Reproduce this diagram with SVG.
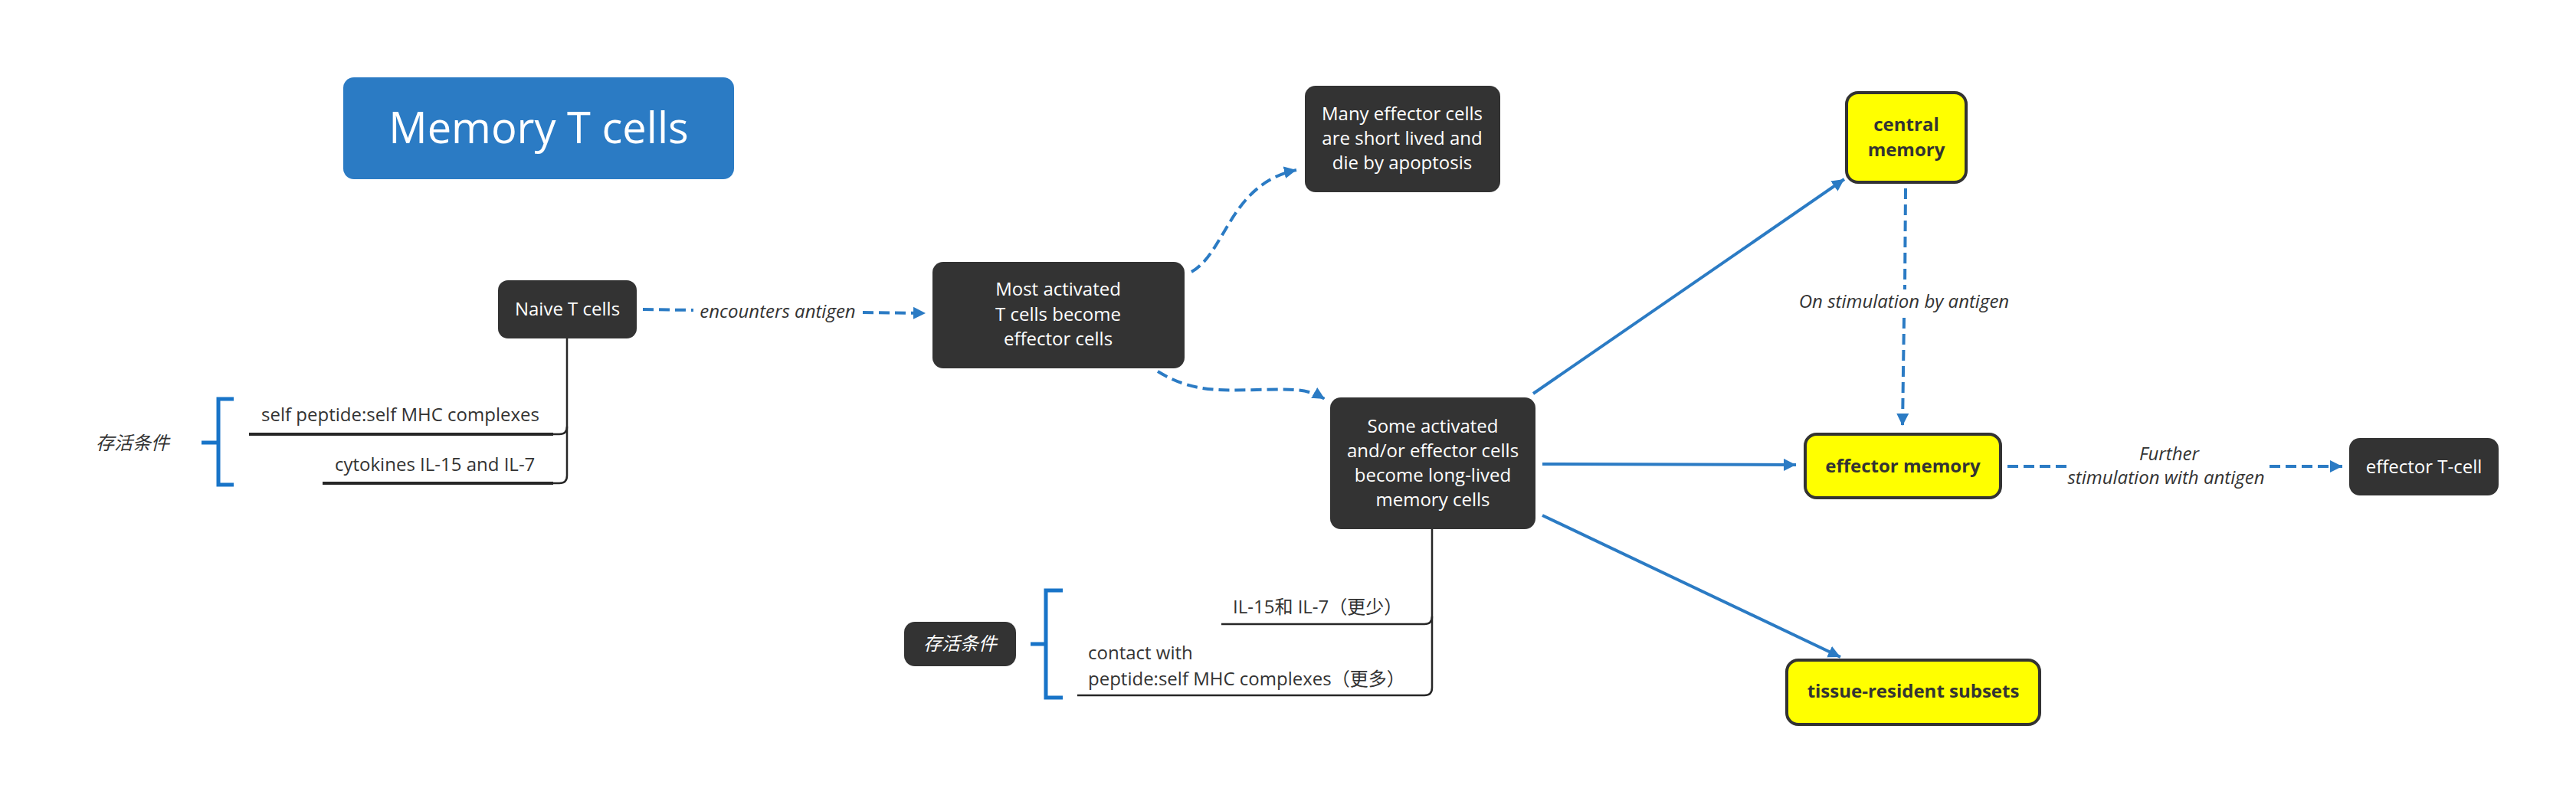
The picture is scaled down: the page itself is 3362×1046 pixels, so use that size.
<svg xmlns="http://www.w3.org/2000/svg" width="3362" height="1046" viewBox="0 0 3362 1046">
<style>
  text { font-family: "Open Sans", "Noto Sans CJK SC", sans-serif; font-size: 24px; }
  .dark rect { fill: #333333; }
  .dark text { fill: #ffffff; text-anchor: middle; }
  .yel rect { fill: #ffff00; stroke: #333333; stroke-width: 4; }
  .yel text { fill: #333333; text-anchor: middle; font-weight: bold; }
  .lbl { fill: #333333; font-style: italic; }
  .mid { text-anchor: middle; }
  .solid { fill: none; stroke: #2b7bc4; stroke-width: 4; }
  .dash { fill: none; stroke: #2b7bc4; stroke-width: 4; stroke-dasharray: 14 7; }
  .tree { fill: none; stroke: #262626; stroke-width: 2.5; }
  .under { fill: none; stroke: #262626; stroke-width: 4; }
  .brk { fill: none; stroke: #1874c8; stroke-width: 5; }
</style>
<defs>
  <marker id="arr" markerUnits="userSpaceOnUse" markerWidth="18" markerHeight="18" refX="16" refY="8" orient="auto">
    <path d="M0,0 L16,8 L0,16 z" fill="#2b7bc4"/>
  </marker>
</defs>
<rect width="3362" height="1046" fill="#ffffff"/>

<g id="connectors">
  <path class="dash" d="M839,404 L905,405"/>
  <path class="dash" d="M1126,408 L1208,409" marker-end="url(#arr)"/>
  <path class="dash" d="M1555,355 C1600,330 1605,240 1692,222" marker-end="url(#arr)"/>
  <path class="dash" d="M1511,485 C1555,512 1590,510 1640,509 C1690,508 1705,507 1729,521" marker-end="url(#arr)"/>
  <path class="solid" d="M2001,514 L2407,234" marker-end="url(#arr)"/>
  <path class="solid" d="M2013,606 L2344,607" marker-end="url(#arr)"/>
  <path class="solid" d="M2013,673 L2402,858" marker-end="url(#arr)"/>
  <path class="dash" d="M2487,246 L2486,378"/>
  <path class="dash" d="M2485,415 L2483,556" marker-end="url(#arr)"/>
  <path class="dash" d="M2620,609 L2699,609"/>
  <path class="dash" d="M2962,609 L3057,609" marker-end="url(#arr)"/>
  <!-- tree lines left -->
  <path class="tree" d="M740,442 L740,621 Q740,631 730,631 L720,631"/>
  <path class="tree" d="M740,557 Q740,567 730,567 L720,567"/>
  <path class="under" d="M325,567 L722,567"/>
  <path class="under" d="M421,631 L722,631"/>
  <!-- tree lines bottom -->
  <path class="tree" d="M1869,691 L1869,898 Q1869,908 1859,908 L1406,908"/>
  <path class="tree" d="M1869,805 Q1869,815 1859,815 L1594,815"/>
  <!-- brackets -->
  <path class="brk" d="M305,521 L285,521 L285,633 L305,633 M263,578 L285,578"/>
  <path class="brk" d="M1387,771 L1365,771 L1365,911 L1387,911 M1345,841 L1365,841"/>
</g>

<g id="title">
  <rect x="448" y="101" width="510" height="133" rx="14" fill="#2b7bc4"/>
  <text x="703" y="187" text-anchor="middle" fill="#ffffff" style="font-size:56px">Memory T cells</text>
</g>

<g id="naive" class="dark">
  <rect x="650" y="366" width="181" height="76" rx="13"/>
  <text x="740.5" y="412">Naive T cells</text>
</g>

<g id="most-activated" class="dark">
  <rect x="1217" y="342" width="329" height="139" rx="14"/>
  <text x="1381" y="386">Most activated</text>
  <text x="1381" y="419">T cells become</text>
  <text x="1381" y="451">effector cells</text>
</g>

<g id="many-effector" class="dark">
  <rect x="1703" y="112" width="255" height="139" rx="14"/>
  <text x="1830" y="157">Many effector cells</text>
  <text x="1830" y="189">are short lived and</text>
  <text x="1830" y="221">die by apoptosis</text>
</g>

<g id="some-activated" class="dark">
  <rect x="1736" y="519" width="268" height="172" rx="14"/>
  <text x="1870" y="565">Some activated</text>
  <text x="1870" y="597">and/or effector cells</text>
  <text x="1870" y="629">become long-lived</text>
  <text x="1870" y="661">memory cells</text>
</g>

<g id="central-memory" class="yel">
  <rect x="2410" y="121" width="156" height="117" rx="15"/>
  <text x="2488" y="171">central</text>
  <text x="2488" y="204">memory</text>
</g>

<g id="effector-memory" class="yel">
  <rect x="2356" y="567" width="255" height="83" rx="15"/>
  <text x="2483.5" y="617">effector memory</text>
</g>

<g id="tissue-resident" class="yel">
  <rect x="2332" y="862" width="330" height="84" rx="15"/>
  <text x="2497" y="911">tissue-resident subsets</text>
</g>

<g id="effector-tcell" class="dark">
  <rect x="3066" y="572" width="195" height="75" rx="14"/>
  <text x="3163.5" y="618">effector T-cell</text>
</g>

<g id="survival-box" class="dark">
  <rect x="1180" y="812" width="146" height="58" rx="14"/>
  <text x="1253" y="849" style="font-style:italic">存活条件</text>
</g>

<g id="labels">
  <text class="lbl mid" x="1015" y="415">encounters antigen</text>
  <text class="lbl mid" x="2485" y="402">On stimulation by antigen</text>
  <text class="lbl mid" x="2831" y="601">Further</text>
  <text class="lbl mid" x="2827" y="632">stimulation with antigen</text>
  <text class="lbl mid" x="173" y="587">存活条件</text>
</g>

<g id="left-conditions">
  <text x="341" y="550" fill="#333333">self peptide:self MHC complexes</text>
  <text x="437" y="615" fill="#333333">cytokines IL-15 and IL-7</text>
</g>

<g id="bottom-conditions">
  <text x="1609" y="801" fill="#333333">IL-15和 IL-7（更少）</text>
  <text x="1420" y="861" fill="#333333">contact with</text>
  <text x="1420" y="895" fill="#333333">peptide:self MHC complexes（更多）</text>
</g>
</svg>
